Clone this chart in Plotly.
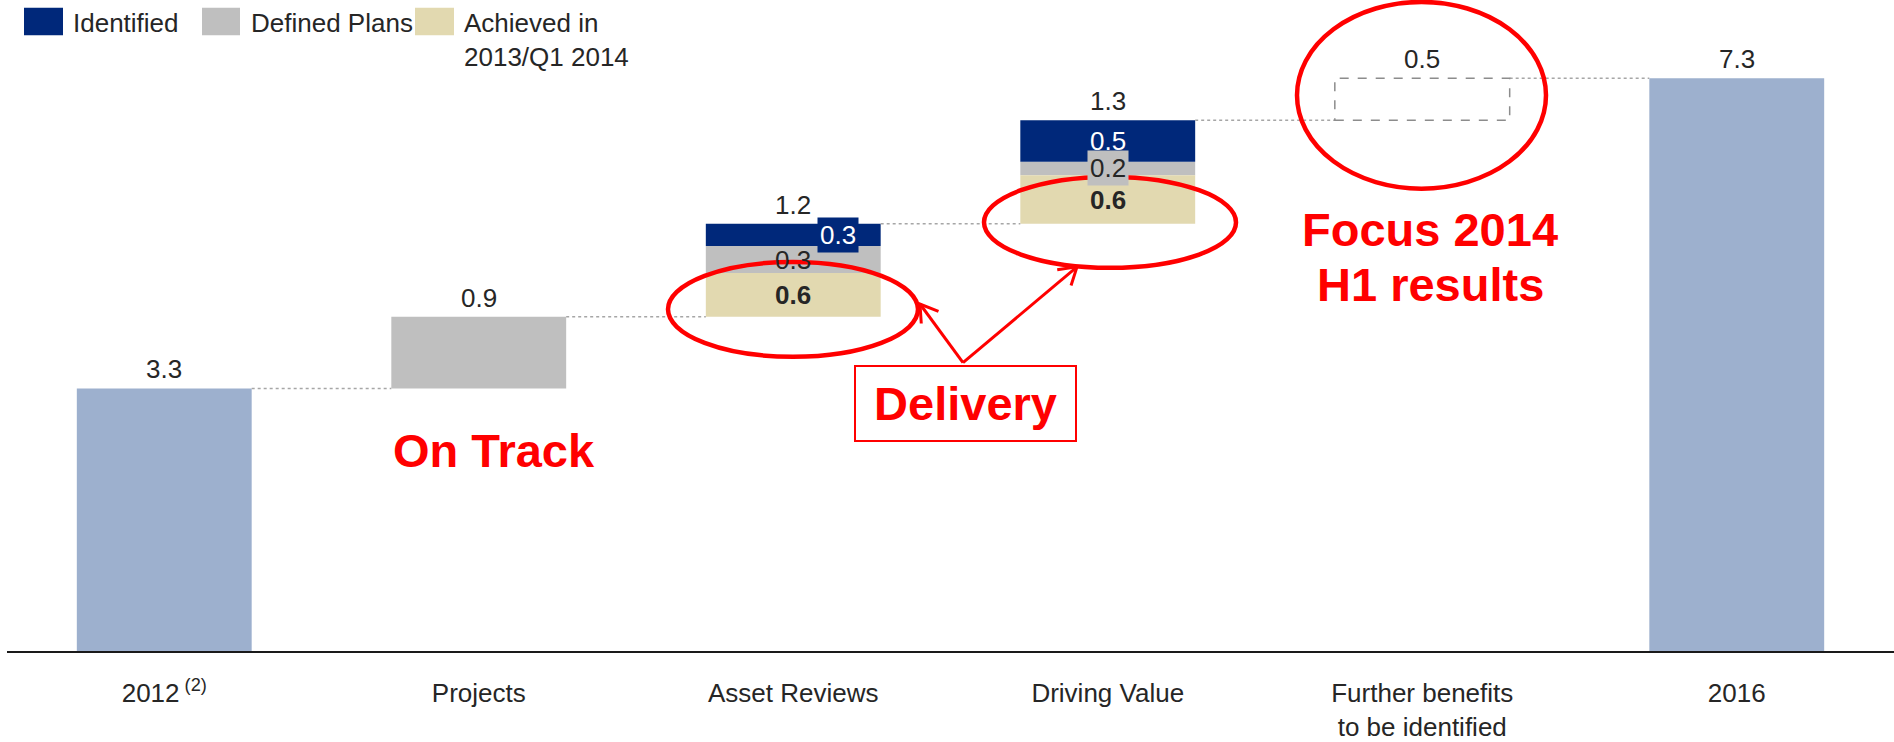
import math
import plotly.graph_objects as go

# ---------------- data ----------------
categories = ["2012<sup> (2)</sup>", "Projects", "Asset Reviews", "Driving Value",
              "Further benefits<br>to be identified", "2016"]
start_2012 = 3.3
end_2016 = 7.2
projects_defined = 0.9
achieved = [0.55, 0.61]      # Asset Reviews, Driving Value
defined = [0.34, 0.17]
identified = [0.28, 0.52]
further_benefits = 0.53
total_labels = ["3.3", "0.9", "1.2", "1.3", "0.5", "7.3"]
achieved_labels = ["0.6", "0.6"]
defined_labels = ["0.3", "0.2"]
identified_labels = ["0.3", "0.5"]
legend_labels = ["Identified", "Defined Plans", "Achieved in<br>2013/Q1 2014"]

# ---------------- styling ----------------
C_TOTAL = "#9DB0CE"
C_GRAY = "#BFBFBF"
C_BEIGE = "#E2D9B0"
C_NAVY = "#00287A"
C_RED = "#FF0000"
C_TEXT = "#262626"
FONT = "Liberation Sans, Arial, sans-serif"
FS = 26
FS_RED = 47
W = 0.556

# layout geometry (pixels) used to place decorations
W_PX, H_PX = 1894, 742
M_L, M_R, M_T, M_B = 7, 0, 0, 76
BASE_PX = H_PX - M_B
TOP_PX = 80            # pixel row of the 2016 total
Y_MAX = BASE_PX / ((BASE_PX - TOP_PX) / end_2016)
SLOT = (W_PX - M_L - M_R) / len(categories)
PX_PER_UNIT = (H_PX - M_T - M_B) / Y_MAX


def dx(px):
    return (px - M_L) / SLOT - 0.5


def dy(py):
    return (H_PX - M_B - py) / PX_PER_UNIT


# ---------------- cumulative geometry ----------------
xs = list(range(len(categories)))
proj_base = start_2012
ar_base = proj_base + projects_defined
ar_top = ar_base + achieved[0] + defined[0] + identified[0]
dv_base = ar_top
dv_top = dv_base + achieved[1] + defined[1] + identified[1]
fb_base = dv_top
fb_top = fb_base + further_benefits
tops = [start_2012, ar_base, ar_top, dv_top, fb_top, end_2016]
level_after = [start_2012, ar_base, ar_top, dv_top, fb_top]

fig = go.Figure()
fig.add_trace(go.Bar(x=[0, 5], y=[start_2012, end_2016], width=W,
                     marker=dict(color=C_TOTAL, line_width=0), hoverinfo="skip"))
ach_base = [ar_base, dv_base]
def_base = [ar_base + achieved[0], dv_base + achieved[1]]
idf_base = [def_base[0] + defined[0], def_base[1] + defined[1]]
fig.add_trace(go.Bar(x=[1, 2, 3], y=[projects_defined] + defined,
                     base=[proj_base] + def_base, width=W,
                     marker=dict(color=C_GRAY, line_width=0), hoverinfo="skip"))
fig.add_trace(go.Bar(x=[2, 3], y=achieved, base=ach_base, width=W,
                     marker=dict(color=C_BEIGE, line_width=0), hoverinfo="skip"))
fig.add_trace(go.Bar(x=[2, 3], y=identified, base=idf_base, width=W,
                     marker=dict(color=C_NAVY, line_width=0), hoverinfo="skip"))

shapes = []
# dotted connectors
for i, lv in enumerate(level_after):
    shapes.append(dict(type="line", xref="x", yref="y", x0=i + W / 2, x1=i + 1 - W / 2,
                       y0=lv, y1=lv, line=dict(color="#A6A6A6", width=1.5, dash="dot")))
# dashed box for further benefits
shapes.append(dict(type="rect", xref="x", yref="y", x0=4 - W / 2, x1=4 + W / 2,
                   y0=fb_base, y1=fb_top, line=dict(color="#8C8C8C", width=1.5, dash="dash")))

annotations = []
# totals above bars
for i, t in enumerate(total_labels):
    annotations.append(dict(x=i, y=tops[i], xref="x", yref="y", text=t, showarrow=False,
                            yanchor="bottom", yshift=2, font=dict(size=FS, color=C_TEXT)))
# inner labels
for k, xi in enumerate([2, 3]):
    annotations.append(dict(x=xi, y=ach_base[k] + achieved[k] / 2, xref="x", yref="y",
                            text="<b>" + achieved_labels[k] + "</b>", showarrow=False,
                            font=dict(size=FS, color=C_TEXT)))
annotations.append(dict(x=2, y=def_base[0] + defined[0] / 2, xref="x", yref="y",
                        text=defined_labels[0], showarrow=False,
                        font=dict(size=FS, color=C_TEXT)))
annotations.append(dict(x=3, y=def_base[1] + defined[1] / 2, xref="x", yref="y",
                        text=defined_labels[1], showarrow=False, bgcolor=C_GRAY, borderpad=2,
                        font=dict(size=FS, color=C_TEXT)))
annotations.append(dict(x=2, y=idf_base[0] + identified[0] / 2, xref="x", yref="y",
                        xshift=45, text=identified_labels[0], showarrow=False,
                        bgcolor=C_NAVY, borderpad=2, font=dict(size=FS, color="white")))
annotations.append(dict(x=3, y=idf_base[1] + identified[1] / 2, xref="x", yref="y",
                        text=identified_labels[1], showarrow=False,
                        font=dict(size=FS, color="white")))

# red ellipses
for (x0, y0, x1, y1) in [(668, 268, 918, 365), (984, 181, 1236, 274), (1297, 2, 1546, 193)]:
    shapes.append(dict(type="circle", xref="x", yref="y", x0=dx(x0), x1=dx(x1),
                       y0=dy(y1), y1=dy(y0), line=dict(color=C_RED, width=4.5), layer="above"))

# red texts
annotations.append(dict(x=dx(494), y=dy(461), xref="x", yref="y", text="<b>On Track</b>",
                        showarrow=False, font=dict(size=FS_RED, color=C_RED)))
annotations.append(dict(x=dx(965.5), y=dy(413), xref="x", yref="y", text="<b>Delivery</b>",
                        showarrow=False, font=dict(size=FS_RED, color=C_RED),
                        bordercolor=C_RED, borderwidth=2, bgcolor="white",
                        width=219, height=73, borderpad=0))
for txt, py in [("<b>Focus 2014</b>", 235), ("<b>H1 results</b>", 291)]:
    annotations.append(dict(x=dx(1430), y=dy(py), xref="x", yref="y", text=txt,
                            showarrow=False, font=dict(size=FS_RED, color=C_RED)))

# arrows from the Delivery box (shaft + open V head)
tail = (963, 371)
for tip in [(920, 311), (1077, 273)]:
    shapes.append(dict(type="line", xref="x", yref="y", x0=dx(tail[0]), y0=dy(tail[1]),
                       x1=dx(tip[0]), y1=dy(tip[1]), line=dict(color=C_RED, width=3),
                       layer="above"))
    ang = math.atan2(tail[1] - tip[1], tail[0] - tip[0])
    hl, spread = 20, math.radians(32)
    p1 = (tip[0] + hl * math.cos(ang + spread), tip[1] + hl * math.sin(ang + spread))
    p2 = (tip[0] + hl * math.cos(ang - spread), tip[1] + hl * math.sin(ang - spread))
    path = "M {} {} L {} {} L {} {}".format(dx(p1[0]), dy(p1[1]), dx(tip[0]), dy(tip[1]),
                                            dx(p2[0]), dy(p2[1]))
    shapes.append(dict(type="path", xref="x", yref="y", path=path,
                       line=dict(color=C_RED, width=3), layer="above"))

# custom legend
leg = [(24, 63, C_NAVY, 71), (202, 240, C_GRAY, 249), (415, 454, C_BEIGE, 462)]
for (sx0, sx1, col, tx), lab in zip(leg, legend_labels):
    shapes.append(dict(type="rect", xref="x", yref="y", x0=dx(sx0), x1=dx(sx1),
                       y0=dy(36), y1=dy(8), fillcolor=col, line_width=0))
    annotations.append(dict(x=dx(tx), y=dy(8), xref="x", yref="y", text=lab,
                            showarrow=False, xanchor="left", yanchor="top", align="left",
                            yshift=2, font=dict(size=FS, color=C_TEXT)))

fig.update_layout(
    barmode="overlay",
    showlegend=False,
    plot_bgcolor="white",
    paper_bgcolor="white",
    width=W_PX, height=H_PX,
    margin=dict(l=M_L, r=M_R, t=M_T, b=M_B),
    font=dict(family=FONT, size=FS, color=C_TEXT),
    shapes=shapes,
    annotations=annotations,
    xaxis=dict(range=[-0.5, 5.5], tickmode="array", tickvals=xs, ticktext=categories,
               showline=True, linecolor="#1A1A1A", linewidth=2, ticks="",
               showgrid=False, zeroline=False, ticklabelstandoff=18,
               tickfont=dict(size=FS, color=C_TEXT), fixedrange=True),
    yaxis=dict(range=[0, Y_MAX], visible=False, showgrid=False, zeroline=False,
               fixedrange=True),
)

fig.write_html("out.html", config={"displayModeBar": False},
               post_script="document.body.style.margin='0';"
                           "document.body.style.overflow='hidden';")
